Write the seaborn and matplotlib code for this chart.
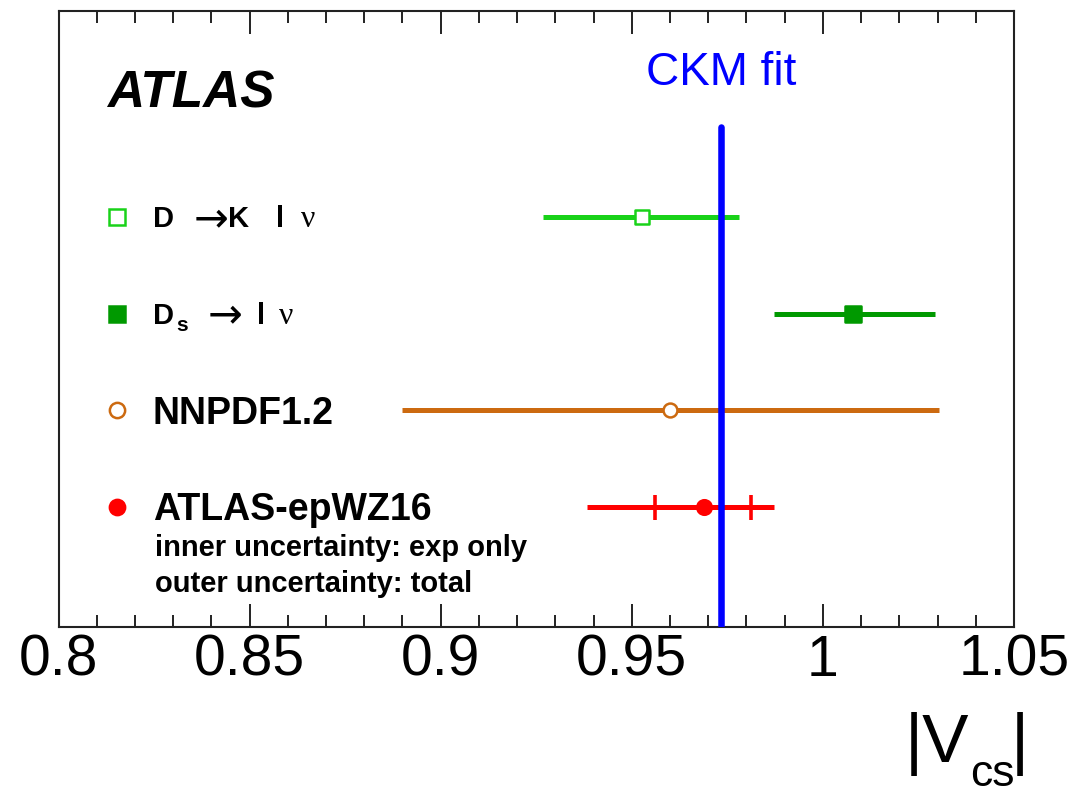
import numpy as np
import pandas as pd
import matplotlib
matplotlib.use("Agg")
import matplotlib.pyplot as plt
import matplotlib.transforms as mtransforms
import seaborn as sns

# ---------------- data ----------------
labels = ["D → K l ν", "Ds → l ν", "NNPDF1.2", "ATLAS-epWZ16"]
central = [0.9526, 1.0079, 0.9600, 0.9688]
total_lo = [0.9268, 0.9871, 0.8898, 0.9382]
total_hi = [0.9781, 1.0294, 1.0305, 0.9873]
atlas_exp_lo = 0.9561
atlas_exp_hi = 0.9813
ckm_fit = 0.9734
rows = [4, 3, 2, 1]
colors = ["#19d219", "#009900", "#cc6a10", "#ff0000"]
xticks = [0.8, 0.85, 0.9, 0.95, 1.0, 1.05]
xticklabels = ["0.8", "0.85", "0.9", "0.95", "1", "1.05"]

df = pd.DataFrame({"label": labels, "central": central, "lo": total_lo,
                   "hi": total_hi, "row": rows, "color": colors})

# ---------------- style ----------------
sns.set_theme(style="white")
plt.rcParams["font.family"] = ["Liberation Sans", "DejaVu Sans"]

W, H = 1081, 795
fig = plt.figure(figsize=(W / 100, H / 100), dpi=100)
ax = fig.add_axes([58.5 / W, (H - 627) / H, 955.5 / W, 616.3 / H])

ax.set_xlim(0.8, 1.05)
ax.set_ylim(-0.241, 6.133)

# error bars (total)
for _, r in df.iterrows():
    ax.errorbar(r["central"], r["row"],
                xerr=[[r["central"] - r["lo"]], [r["hi"] - r["central"]]],
                fmt="none", ecolor=r["color"], elinewidth=3.6, capsize=0, zorder=3)

# ATLAS inner (exp only) uncertainty with ticks
a = df.iloc[3]
ax.errorbar(a["central"], a["row"],
            xerr=[[a["central"] - atlas_exp_lo], [atlas_exp_hi - a["central"]]],
            fmt="none", ecolor=a["color"], elinewidth=3.6, capsize=9, capthick=2.6, zorder=3)

# CKM fit line
ax.axvline(ckm_fit, ymin=0, ymax=0.811, color="#0000ff", lw=4.7, zorder=4)
blend = mtransforms.blended_transform_factory(ax.transData, ax.transAxes)
ax.text(ckm_fit, 0.8795, "CKM fit", transform=blend, color="#0000ff",
        fontsize=33, ha="center", va="baseline")

# central markers via seaborn
mk = ["s", "s", "o", "o"]
filled = [False, True, False, True]
msz = [10.0, 12.0, 10.0, 10.5]
for i, r in df.iterrows():
    sns.scatterplot(x=[r["central"]], y=[r["row"]], marker=mk[i], s=msz[i] ** 2,
                    color=(r["color"] if filled[i] else "white"),
                    edgecolor=r["color"], linewidth=1.8, ax=ax, zorder=5, legend=False)

# legend-like markers on the left
yblend = mtransforms.blended_transform_factory(ax.transAxes, ax.transData)
lmk_size = [11.5, 11.5, 11.0, 11.0]
for i, r in df.iterrows():
    ax.plot([0.0612], [r["row"]], marker=mk[i], ms=lmk_size[i], transform=yblend,
            mfc=(r["color"] if filled[i] else "white"), mec=r["color"], mew=1.8,
            ls="none", clip_on=False, zorder=5)

lx = 0.0989


def piece(text, prev, row, dx, dy, size, family=None, weight="bold"):
    kw = dict(textcoords="offset points", fontsize=size, fontweight=weight,
              va="baseline", color="black")
    if family is not None:
        kw["family"] = family
    if prev is None:
        return ax.annotate(text, xy=(lx, row), xycoords=yblend, xytext=(dx, dy), **kw)
    return ax.annotate(text, xy=(1, row), xycoords=(prev, yblend), xytext=(dx, dy), **kw)


# row 1 label: D -> K l nu
t = piece("D", None, rows[0], 0, -7.5, 21)
t = piece("→", t, rows[0], 14, -10, 30, family=["DejaVu Sans"], weight="normal")
t = piece("K", t, rows[0], 0, -7.5, 21)
t = piece("l", t, rows[0], 19, -7.5, 21)
t = piece("ν", t, rows[0], 12, -7.5, 23, family=["Liberation Serif"], weight="normal")

# row 2 label: D_s -> l nu
t = piece("D", None, rows[1], 0, -7.5, 21)
t = piece("s", t, rows[1], 1.5, -12.5, 15)
t = piece("→", t, rows[1], 14, -10, 30, family=["DejaVu Sans"], weight="normal")
t = piece("l", t, rows[1], 11, -7.5, 21)
t = piece("ν", t, rows[1], 10, -7.5, 23, family=["Liberation Serif"], weight="normal")

# rows 3, 4
for i in (2, 3):
    piece(labels[i], None, rows[i], 0, -9.7, 27)
ax.text(lx + 0.002, 0.493, "inner uncertainty: exp only", transform=yblend,
        fontsize=21, fontweight="bold", va="baseline", color="black")
ax.text(lx + 0.002, 0.121, "outer uncertainty: total", transform=yblend,
        fontsize=21, fontweight="bold", va="baseline", color="black")

# ATLAS label
ax.text(0.0507, 0.8437, "ATLAS", transform=ax.transAxes, fontsize=37,
        fontweight="bold", fontstyle="italic", va="baseline", color="black")

# axes styling
ax.set_yticks([])
ax.set_xticks(xticks)
ax.set_xticklabels(xticklabels)
ax.set_xticks(np.arange(0.80, 1.0501, 0.01), minor=True)
ax.tick_params(axis="x", which="both", direction="in", top=True, bottom=True,
               color="#222222", width=1.4, labelsize=41, pad=5, labelcolor="black")
ax.tick_params(axis="x", which="major", length=16.5)
ax.tick_params(axis="x", which="minor", length=8.6)
for s in ax.spines.values():
    s.set_visible(True)
    s.set_color("#222222")
    s.set_linewidth(1.5)
ax.set_xlabel("")
ax.set_ylabel("")

# x-axis title |V_cs|
tv = fig.text(905 / W, (H - 762) / H, "|V", fontsize=50, va="baseline", ha="left",
              color="black")
tc = ax.annotate("cs", xy=(1, (H - 786) / H), xycoords=(tv, fig.transFigure),
                 xytext=(0.5, 0), textcoords="offset points", fontsize=32,
                 va="baseline", ha="left", color="black", annotation_clip=False)
ax.annotate("|", xy=(1, (H - 762) / H), xycoords=(tc, fig.transFigure),
            xytext=(-3, 0), textcoords="offset points", fontsize=50,
            va="baseline", ha="left", color="black", annotation_clip=False)

fig.savefig("out.png", dpi=100)
